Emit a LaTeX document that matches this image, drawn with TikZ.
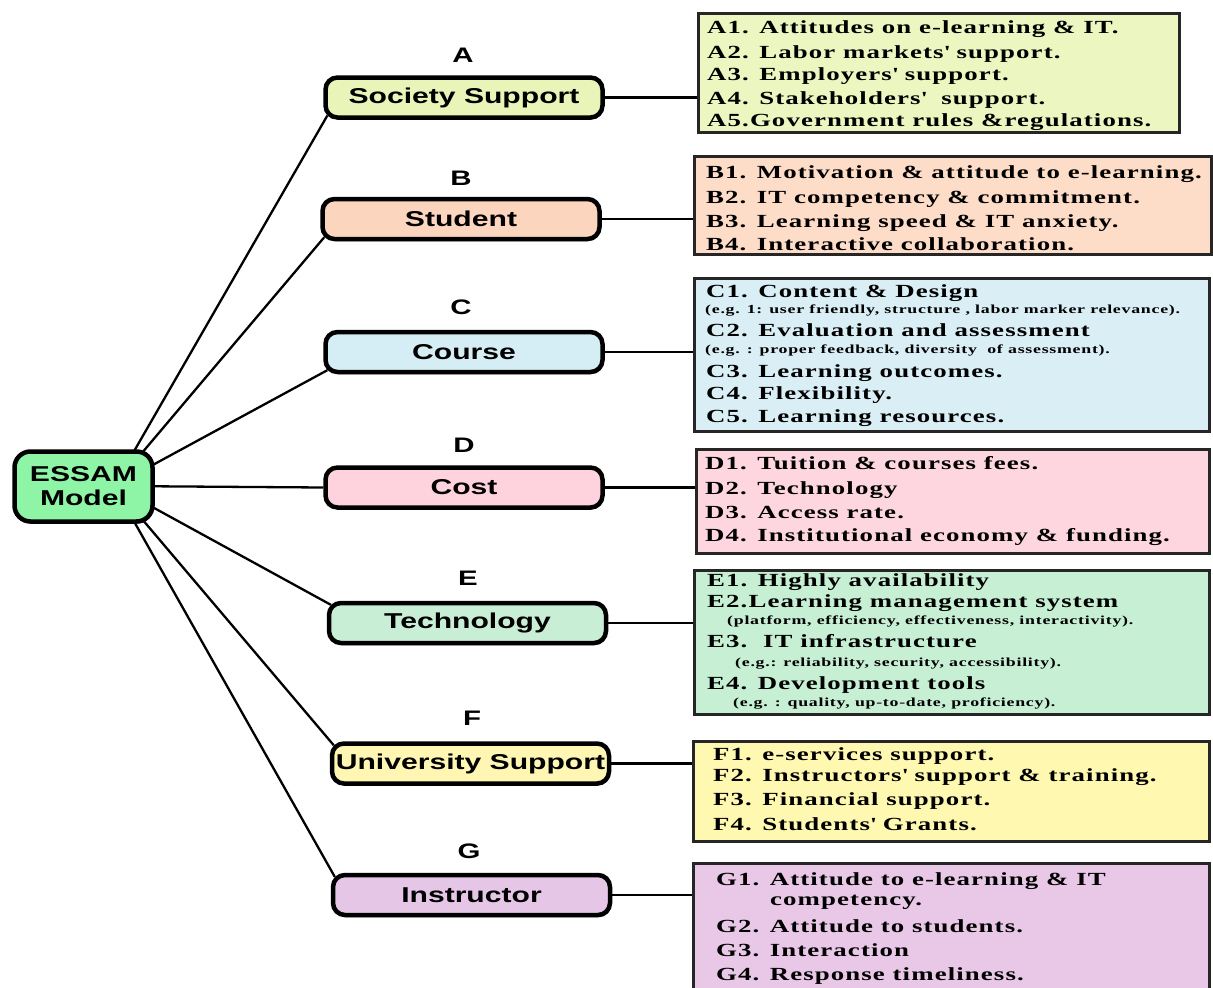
\documentclass[tikz,border=0pt]{standalone}
\usepackage{fontspec}
\usetikzlibrary{backgrounds,shadows,calc}
\newfontfamily\nodefont{Liberation Sans}[FakeStretch=1.4]
\newfontfamily\boxfont{Liberation Serif}[FakeStretch=1.45,LetterSpace=6]
\newcommand{\q}{\textquotesingle}
\definecolor{cEs}{HTML}{8FF5A6}
\definecolor{mA}{HTML}{E8F4B8}
\definecolor{bA}{HTML}{ECF6C0}
\definecolor{mB}{HTML}{FCD5BE}
\definecolor{bB}{HTML}{FDDCC8}
\definecolor{mC}{HTML}{D5EDF5}
\definecolor{bC}{HTML}{DAEEF5}
\definecolor{mD}{HTML}{FFD3DE}
\definecolor{bD}{HTML}{FDD6E0}
\definecolor{mE}{HTML}{C8EED5}
\definecolor{bE}{HTML}{C6EFD4}
\definecolor{mF}{HTML}{FFF6B4}
\definecolor{bF}{HTML}{FFF8B0}
\definecolor{mG}{HTML}{E5C6E6}
\definecolor{bG}{HTML}{E8C8E6}
\tikzset{
  mainbox/.style={draw=black, line width=4.5pt, rounded corners=12pt,
    minimum width=277pt, minimum height=40pt, inner sep=0pt,
    font=\nodefont\bfseries\fontsize{21.5}{24}\selectfont,
    drop shadow={shadow xshift=1pt, shadow yshift=-2pt, fill=black!80, opacity=1}},
  listbox/.style={draw=black!85, line width=2.5pt, anchor=north west, inner sep=0pt},
  bigline/.style={anchor=base west, inner sep=0pt,
    font=\boxfont\bfseries\fontsize{18.5}{18}\selectfont},
  smallline/.style={anchor=base west, inner sep=0pt,
    font=\boxfont\bfseries\fontsize{12.3}{12}\selectfont},
  letter/.style={inner sep=0pt, font=\nodefont\bfseries\fontsize{21}{21}\selectfont},
  conn/.style={draw=black, line width=2.3pt},
}
\begin{document}
\begin{tikzpicture}[x=1pt,y=-1pt]
\useasboundingbox (0,0) rectangle (1213,988);
\clip (0,0) rectangle (1213,988);

% list boxes
\node[listbox, fill=bA, minimum width=481pt, minimum height=119pt] (boxA) at (697,12) {};
\node[listbox, fill=bB, minimum width=517pt, minimum height=98pt] (boxB) at (693,155) {};
\node[listbox, fill=bC, minimum width=515pt, minimum height=153pt] (boxC) at (693,277) {};
\node[listbox, fill=bD, minimum width=513pt, minimum height=104pt] (boxD) at (695,448) {};
\node[listbox, fill=bE, minimum width=515pt, minimum height=144pt] (boxE) at (693,569) {};
\node[listbox, fill=bF, minimum width=516pt, minimum height=100pt] (boxF) at (692,740) {};
\node[listbox, fill=bG, minimum width=516pt, minimum height=140pt] (boxG) at (692,862) {};

% main nodes
\node[mainbox, fill=cEs, minimum width=138pt, minimum height=70pt, rounded corners=16pt, align=center] (essam) at (83.5,486.5) {ESSAM\\Model};
\node[mainbox, fill=mA] (soc) at (464,97.5) {Society Support};
\node[mainbox, fill=mB] (stu) at (461,219) {Student};
\node[mainbox, fill=mC] (cou) at (464,352) {Course};
\node[mainbox, fill=mD] (cos) at (464,487.5) {Cost};
\node[mainbox, fill=mE] (tec) at (467.5,623) {Technology};
\node[mainbox, fill=mF] (uni) at (470.5,763.5) {University Support};
\node[mainbox, fill=mG] (ins) at (471.5,895) {Instructor};

% letters
\node[letter] (la) at (463,55) {A};
\node[letter] (lb) at (461,178) {B};
\node[letter] (lc) at (461,307) {C};
\node[letter] (ld) at (464,445) {D};
\node[letter] (le) at (468,578) {E};
\node[letter] (lf) at (472,718) {F};
\node[letter] (lg) at (469,851) {G};

% connectors
\coordinate (hub) at (114,486);
\begin{pgfonlayer}{background}
\draw[conn] (hub) -- ([shift={(4,-4)}]soc.south west);
\draw[conn] (hub) -- ([shift={(4,-4)}]stu.south west);
\draw[conn] (hub) -- ([shift={(4,-4)}]cou.south west);
\draw[conn] (hub) -- (cos.west);
\draw[conn] (hub) -- ([shift={(4,4)}]tec.north west);
\draw[conn] (hub) -- ([shift={(4,4)}]uni.north west);
\draw[conn] (hub) -- ([shift={(4,4)}]ins.north west);
\draw[conn] (soc.east) -- (soc.east -| boxA.west);
\draw[conn] (stu.east) -- (stu.east -| boxB.west);
\draw[conn] (cou.east) -- (cou.east -| boxC.west);
\draw[conn] (cos.east) -- (cos.east -| boxD.west);
\draw[conn] (tec.east) -- (tec.east -| boxE.west);
\draw[conn] (uni.east) -- (uni.east -| boxF.west);
\draw[conn] (ins.east) -- (ins.east -| boxG.west);
\end{pgfonlayer}

% texts A
\node[bigline] (a1) at (707,33) {A1. Attitudes on e-learning \& IT.};
\node[bigline] (a2) at (707,58) {A2. Labor markets\q{} support.};
\node[bigline] (a3) at (707,80) {A3. Employers\q{} support.};
\node[bigline] (a4) at (707,104) {A4. Stakeholders\q{}\ \ support.};
\node[bigline] (a5) at (707,126) {A5.Government rules \&regulations.};
% B
\node[bigline] (b1) at (706,178) {B1. Motivation \& attitude to e-learning.};
\node[bigline] (b2) at (706,203) {B2. IT competency \& commitment.};
\node[bigline] (b3) at (706,227) {B3. Learning speed \& IT anxiety.};
\node[bigline] (b4) at (706,250) {B4. Interactive collaboration.};
% C
\node[bigline] (c1) at (706,297) {C1. Content \& Design};
\node[smallline] (c1s) at (705,313) {(e.g. 1: user friendly, structure , labor marker relevance).};
\node[bigline] (c2) at (706,336) {C2. Evaluation and assessment};
\node[smallline] (c2s) at (705,353) {(e.g. : proper feedback, diversity\ \ of assessment).};
\node[bigline] (c3) at (706,377) {C3. Learning outcomes.};
\node[bigline] (c4) at (706,399) {C4. Flexibility.};
\node[bigline] (c5) at (706,422) {C5. Learning resources.};
% D
\node[bigline] (d1) at (705,469) {D1. Tuition \& courses fees.};
\node[bigline] (d2) at (705,494) {D2. Technology};
\node[bigline] (d3) at (705,518) {D3. Access rate.};
\node[bigline] (d4) at (705,541) {D4. Institutional economy \& funding.};
% E
\node[bigline] (e1) at (707,586) {E1. Highly availability};
\node[bigline] (e2) at (707,607) {E2.Learning management system};
\node[smallline] (e2s) at (727,624) {(platform, efficiency, effectiveness, interactivity).};
\node[bigline] (e3) at (707,647) {E3.\ \ IT infrastructure};
\node[smallline] (e3s) at (735,666) {(e.g.: reliability, security, accessibility).};
\node[bigline] (e4) at (707,689) {E4. Development tools};
\node[smallline] (e4s) at (733,706) {(e.g. : quality, up-to-date, proficiency).};
% F
\node[bigline] (f1) at (713,760) {F1. e-services support.};
\node[bigline] (f2) at (713,781) {F2. Instructors\q{} support \& training.};
\node[bigline] (f3) at (713,805) {F3. Financial support.};
\node[bigline] (f4) at (713,830) {F4. Students\q{} Grants.};
% G
\node[bigline] (g1) at (716,885) {G1. Attitude to e-learning \& IT};
\node[bigline] (g1b) at (770,905) {competency.};
\node[bigline] (g2) at (716,932) {G2. Attitude to students.};
\node[bigline] (g3) at (716,956) {G3. Interaction};
\node[bigline] (g4) at (716,980) {G4. Response timeliness.};
\end{tikzpicture}
\end{document}
